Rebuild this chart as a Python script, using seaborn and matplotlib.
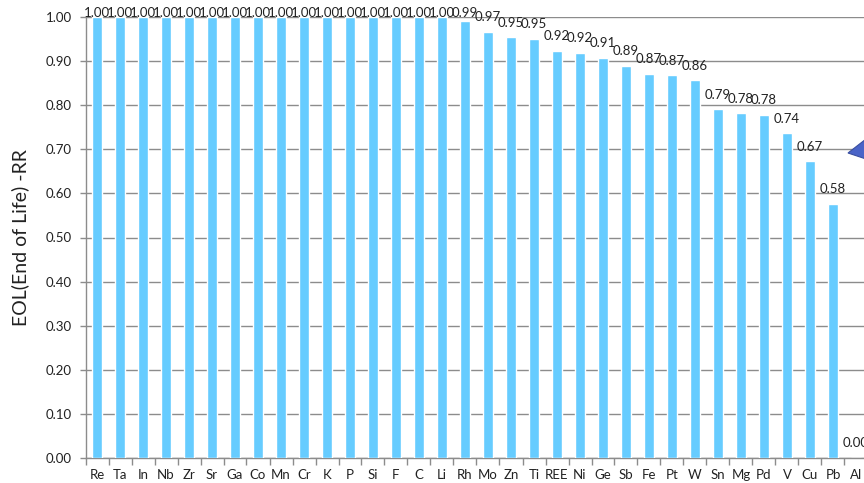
import matplotlib
matplotlib.use("Agg")
import matplotlib.pyplot as plt
import seaborn as sns
import pandas as pd
import numpy as np
from matplotlib.patches import Polygon

elements = ["Re", "Ta", "In", "Nb", "Zr", "Sr", "Ga", "Co", "Mn", "Cr", "K", "P", "Si", "F", "C", "Li",
            "Rh", "Mo", "Zn", "Ti", "REE", "Ni", "Ge", "Sb", "Fe", "Pt", "W", "Sn", "Mg", "Pd", "V", "Cu", "Pb", "Al"]
eol_rr = [1.00, 1.00, 1.00, 1.00, 1.00, 1.00, 1.00, 1.00, 1.00, 1.00, 1.00, 1.00, 1.00, 1.00, 1.00, 1.00,
          0.99, 0.966, 0.954, 0.951, 0.923, 0.919, 0.907, 0.889, 0.871, 0.868, 0.857, 0.791, 0.782, 0.778,
          0.736, 0.673, 0.576, 0.0]
ytick_vals = [0.0, 0.1, 0.2, 0.3, 0.4, 0.5, 0.6, 0.7, 0.8, 0.9, 1.0]
ylabel = "EOL(End of Life) -RR"

sns.set_theme(style="white")
plt.rcParams["font.family"] = ["Lato", "DejaVu Sans"]

W, H = 864, 483
fig = plt.figure(figsize=(W / 100, H / 100), dpi=100)
n = len(elements)
step = 23.0
x0 = 97 - step / 2
ax = fig.add_axes([x0 / W, 25 / H, (step * n) / W, (458 - 17) / H])

df = pd.DataFrame({"element": elements, "value": eol_rr})
sns.barplot(data=df, x="element", y="value", color="#66CCFF", saturation=1, width=0.42, ax=ax, zorder=3)

grid_c = "#8c8c8c"
ax.set_ylim(0, 1.0)
ax.set_xlim(-0.5, n - 0.5)
ax.set_yticks(ytick_vals)
ax.set_yticklabels([f"{v:.2f}" for v in ytick_vals], fontsize=9.5, color="#222222")
ax.yaxis.grid(True, color=grid_c, linewidth=1, zorder=0)
ax.tick_params(axis="y", length=4, color=grid_c, width=1, pad=6, left=True)
ax.tick_params(axis="x", which="major", length=0, labelsize=9.5, labelcolor="#222222", pad=8)
ax.set_xticks(np.arange(-0.5, n, 1), minor=True)
ax.tick_params(axis="x", which="minor", length=5, color=grid_c, width=1, bottom=True)
for s in ["top", "right"]:
    ax.spines[s].set_visible(False)
for s in ["left", "bottom"]:
    ax.spines[s].set_color(grid_c)
    ax.spines[s].set_linewidth(1)
ax.set_xlabel("")
ax.set_ylabel(ylabel, fontsize=14, color="#222222", va="center")
ax.yaxis.set_label_coords(-(x0 - 20) / (step * n), 0.5)

for i, v in enumerate(eol_rr):
    y = min(v + 0.033, 1.009)
    ax.text(i, y, f"{v:.2f}", ha="center", va="center", fontsize=9.5, color="#222222", zorder=5, clip_on=False)

tri = Polygon([[848 / W, 1 - 153 / H], [866 / W, 1 - 139 / H], [866 / W, 1 - 159 / H]],
              closed=True, transform=fig.transFigure, facecolor="#4a64c8", edgecolor="#3a4fa0", linewidth=0.8)
fig.patches.append(tri)

fig.savefig("out.png", dpi=100)
